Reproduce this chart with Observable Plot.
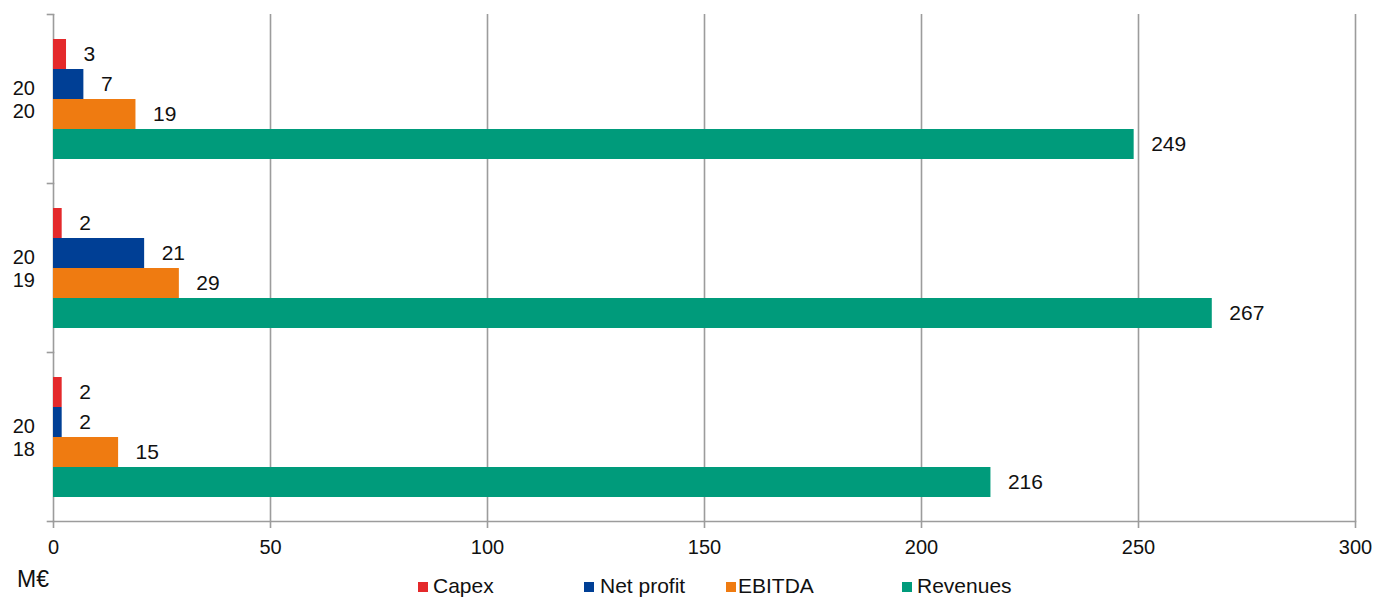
<!DOCTYPE html>
<html>
<head>
<meta charset="utf-8">
<script src="https://cdn.jsdelivr.net/npm/d3@7"></script>
<script src="https://cdn.jsdelivr.net/npm/@observablehq/plot@0.6"></script>
<style>
  html, body { margin: 0; padding: 0; background: #fff; }
  #wrap { position: relative; width: 1389px; height: 598px; font-family: "Liberation Sans", Arial, sans-serif; color: #111; }
  #chart svg { display: block; }
  .unit { position: absolute; left: 17px; top: 568px; font-size: 23px; line-height: 1; }
  .sw { position: absolute; top: 582px; width: 10px; height: 10px; }
  .lab { position: absolute; top: 575px; font-size: 21px; line-height: 1; white-space: nowrap; }
</style>
</head>
<body>
<div id="wrap">
  <div id="chart"></div>
  <div class="unit">M€</div>
  <div id="legend"></div>
</div>
<script>
// Key figures per year, in millions of euros
const years = ["2020", "2019", "2018"];
const yearLabels = ["20\n20", "20\n19", "20\n18"];
const series = ["Capex", "Net profit", "EBITDA", "Revenues"];
const colors = ["#e4292b", "#003f95", "#ef7b11", "#009b7b"];
const capex = [3, 2, 2];
const netProfit = [7, 21, 2];
const ebitda = [19, 29, 15];
const revenues = [249, 267, 216];
const xTicks = [0, 50, 100, 150, 200, 250, 300];
const legendSwatchX = [418, 584, 726, 902];
const legendTextX = [433, 600, 738, 917];

const columns = [capex, netProfit, ebitda, revenues];
const data = [];
years.forEach((year, i) => {
  series.forEach((s, j) => data.push({year, series: s, value: columns[j][i]}));
});

const gray = "#9c9c9c";
const W = 1389, H = 565, ML = 53, MR = 34, MT = 13, MB = 43;
const plotW = W - ML - MR;

const chart = Plot.plot({
  width: W,
  height: H,
  marginLeft: ML,
  marginRight: MR,
  marginTop: MT,
  marginBottom: MB,
  style: {fontFamily: '"Liberation Sans", Arial, sans-serif', color: "#111", background: "#fff"},
  x: {domain: [0, 300], axis: null},
  y: {domain: series, paddingInner: 0, paddingOuter: 0.75, axis: null},
  fy: {domain: years, padding: 0, axis: null},
  color: {domain: series, range: colors},
  marks: [
    Plot.gridX(xTicks.slice(1), {stroke: gray, strokeOpacity: 1, strokeWidth: 1.6}),
    Plot.ruleX([0], {stroke: gray, strokeWidth: 1.6}),
    // short category ticks on the left edge of each year band
    Plot.frame({anchor: "top", stroke: gray, strokeWidth: 1.6, insetLeft: -6, insetRight: plotW}),
    Plot.frame({anchor: "bottom", facetAnchor: "bottom", stroke: gray, strokeWidth: 1.6, insetLeft: -6, insetRight: plotW}),
    // bottom axis line
    Plot.frame({anchor: "bottom", facetAnchor: "bottom", stroke: gray, strokeWidth: 1.6}),
    Plot.barX(data, {x: "value", y: "series", fy: "year", fill: "series"}),
    Plot.text(data, {
      x: "value", y: "series", fy: "year",
      text: (d) => String(d.value),
      textAnchor: "start", dx: 17, fontSize: 21, fill: "#111"
    }),
    Plot.axisX(xTicks, {
      anchor: "bottom", tickSize: 7, tickPadding: 11, fontSize: 20,
      stroke: gray, strokeWidth: 1.6, label: null, fill: "#111"
    }),
    Plot.axisFy({
      anchor: "left", tickSize: 0, tickPadding: 18.5, fontSize: 20, lineHeight: 1.15,
      label: null, fill: "#111",
      tickFormat: (d) => yearLabels[years.indexOf(d)]
    })
  ]
});
document.getElementById("chart").appendChild(chart);

// legend
const legend = document.getElementById("legend");
series.forEach((s, i) => {
  const sw = document.createElement("div");
  sw.className = "sw";
  sw.style.left = legendSwatchX[i] + "px";
  sw.style.background = colors[i];
  legend.appendChild(sw);
  const lab = document.createElement("div");
  lab.className = "lab";
  lab.style.left = legendTextX[i] + "px";
  lab.textContent = s;
  legend.appendChild(lab);
});
</script>
</body>
</html>
